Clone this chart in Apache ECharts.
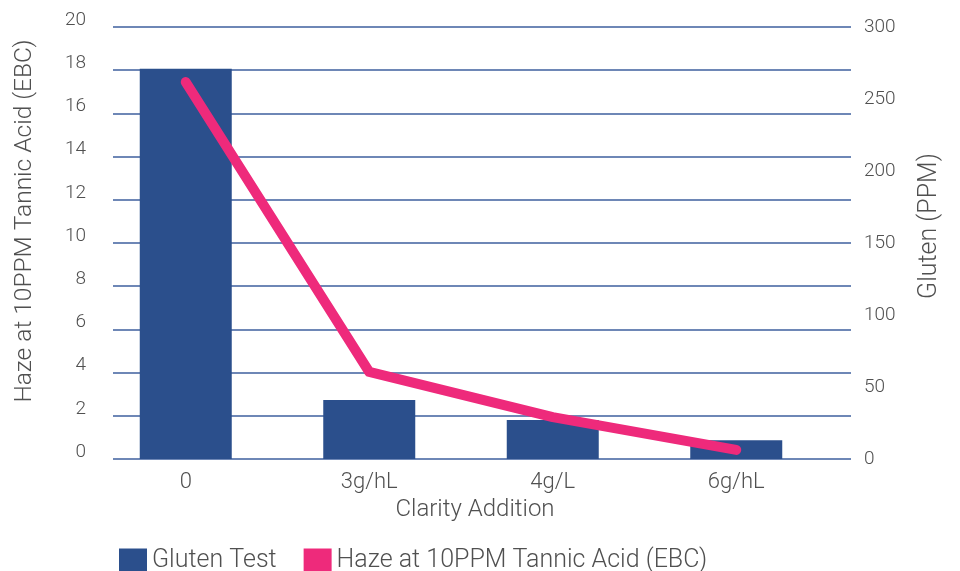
<!DOCTYPE html>
<html>
<head>
<meta charset="utf-8">
<script src="https://cdn.jsdelivr.net/npm/echarts@6/dist/echarts.min.js"></script>
<style>
  html, body { margin: 0; padding: 0; background: #fff; }
  #main { width: 960px; height: 571px; }
</style>
</head>
<body>
<div id="main"></div>
<script type="text/javascript">
    // data
    var categories = ['0', '3g/hL', '4g/L', '6g/hL'];
    var glutenTest = [271, 41, 27, 13];          // Gluten (PPM), right axis
    var hazeValues = [17.45, 4.03, 1.94, 0.42];  // Haze (EBC), left axis

    var textColor = '#505050';
    var fontFamily = 'Roboto, "Noto Sans", sans-serif';

    var myChart = echarts.init(document.getElementById('main'));

    var option = {
        animation: false,
        textStyle: { fontFamily: fontFamily, color: textColor },
        legend: {
            left: 114,
            top: 543,
            itemWidth: 28,
            itemHeight: 24,
            itemGap: 27,
            icon: 'rect',
            textStyle: { fontSize: 25, color: textColor, fontWeight: 300 },
            data: ['Gluten Test', 'Haze at 10PPM Tannic Acid (EBC)']
        },
        grid: [
            // grid with the gridlines and the value axes
            { left: 113, right: 109, top: 27, bottom: 112 },
            // grid holding the bars and the line
            { left: 94, right: 132, top: 27, bottom: 112 }
        ],
        xAxis: [
            {
                gridIndex: 0,
                type: 'category',
                data: categories,
                show: false
            },
            {
                gridIndex: 1,
                type: 'category',
                data: categories,
                axisLine: { show: false },
                axisTick: { show: false },
                axisLabel: { fontSize: 22, color: textColor, margin: 12, fontWeight: 300 },
                name: 'Clarity Addition',
                nameLocation: 'middle',
                nameGap: 37,
                nameTextStyle: { fontSize: 24, color: textColor, fontWeight: 300, padding: [0, 0, 0, 28] }
            }
        ],
        yAxis: [
            {
                gridIndex: 0,
                type: 'value',
                position: 'left',
                min: 0,
                max: 20,
                interval: 2,
                axisLine: { show: false },
                axisTick: { show: false },
                axisLabel: { fontSize: 19, color: textColor, margin: 27, fontWeight: 300, verticalAlign: 'bottom', lineHeight: 14 },
                splitLine: { lineStyle: { color: '#3e5f9e', width: 1.5 } },
                name: 'Haze at 10PPM Tannic Acid (EBC)',
                nameLocation: 'middle',
                nameGap: 76,
                nameTextStyle: { fontSize: 24.5, color: textColor, fontWeight: 300, padding: [0, 0, 0, 44] }
            },
            {
                gridIndex: 0,
                type: 'value',
                position: 'right',
                min: 0,
                max: 300,
                interval: 50,
                axisLine: { show: false },
                axisTick: { show: false },
                axisLabel: { fontSize: 19, color: textColor, margin: 13, fontWeight: 300 },
                splitLine: { show: false },
                name: 'Gluten (PPM)',
                nameLocation: 'middle',
                nameGap: 66,
                nameTextStyle: { fontSize: 25, color: textColor, fontWeight: 300, padding: [0, 0, 0, 34] }
            },
            { gridIndex: 1, type: 'value', min: 0, max: 20, show: false },
            { gridIndex: 1, type: 'value', min: 0, max: 300, show: false }
        ],
        series: [
            {
                name: 'Gluten Test',
                type: 'bar',
                xAxisIndex: 1,
                yAxisIndex: 3,
                barWidth: 92,
                itemStyle: { color: '#2b4f8c' },
                data: glutenTest
            },
            {
                name: 'Haze at 10PPM Tannic Acid (EBC)',
                type: 'line',
                xAxisIndex: 1,
                yAxisIndex: 2,
                showSymbol: false,
                symbol: 'none',
                itemStyle: { color: '#ee2a7b' },
                lineStyle: { color: '#ee2a7b', width: 10, cap: 'round', join: 'round' },
                data: hazeValues
            }
        ]
    };

    myChart.setOption(option);
</script>
</body>
</html>
